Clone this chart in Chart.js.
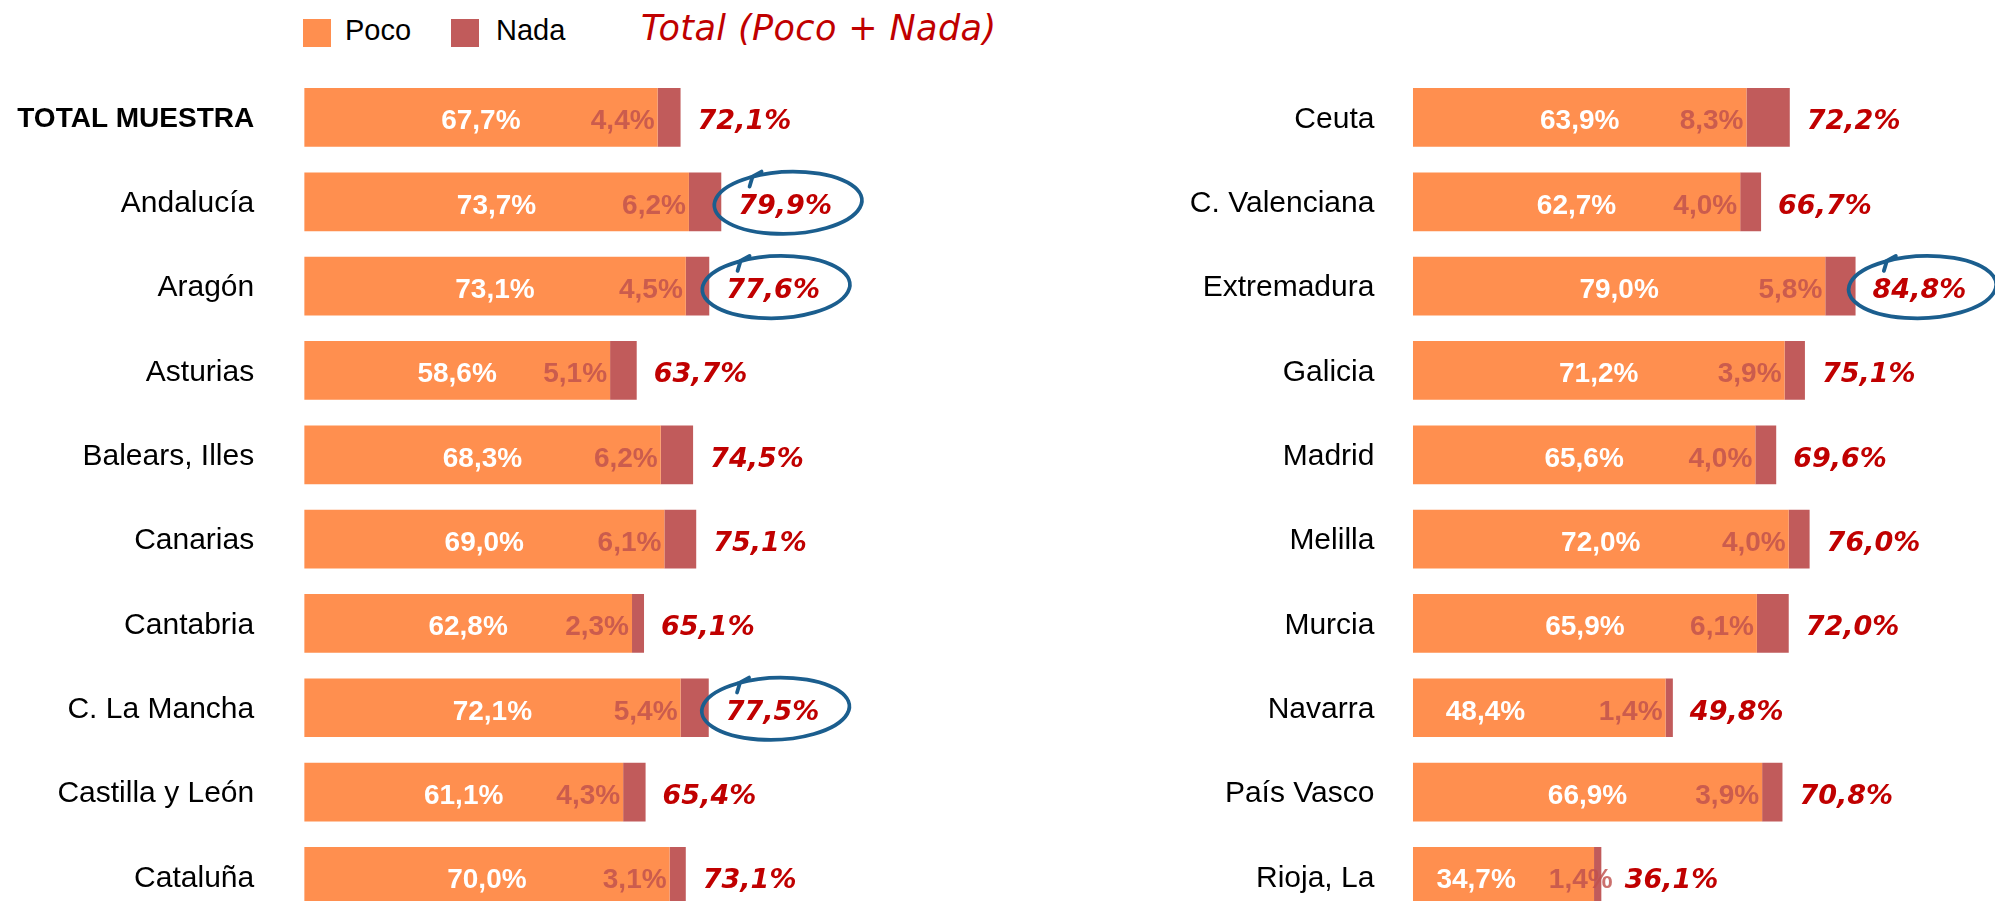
<!DOCTYPE html>
<html>
<head>
<meta charset="utf-8">
<script src="https://cdn.jsdelivr.net/npm/chart.js@4.4.0/dist/chart.umd.min.js"></script>
<style>
  html, body { margin: 0; padding: 0; background: #fff; width: 1995px; height: 901px; overflow: hidden; }
  .box { position: absolute; top: 0; }
  .sw { position: absolute; top: 19px; width: 28px; height: 28px; }
  .lg { position: absolute; top: 14px; height: 38px; line-height: 38px; font: 29px "Liberation Sans", Arial, sans-serif; color: #000; }
  #title { position: absolute; left: 641px; top: 8px; line-height: 44px; font: italic 35px "DejaVu Sans", sans-serif; color: #C00000; letter-spacing: 0.4px; }
</style>
</head>
<body>
<div class="sw" style="left:303px;background:#FF8F4F"></div>
<div class="lg" style="left:345px">Poco</div>
<div class="sw" style="left:451px;background:#C15B5B"></div>
<div class="lg" style="left:496px">Nada</div>
<div id="title">Total (Poco + Nada)</div>

<div class="box" style="left:0"><canvas id="left-chart" width="1000" height="920"></canvas></div>
<div class="box" style="left:1000px"><canvas id="right-chart" width="995" height="920"></canvas></div>

<script>
// Left block
const leftLabels = ['TOTAL MUESTRA', 'Andalucía', 'Aragón', 'Asturias', 'Balears, Illes', 'Canarias',
    'Cantabria', 'C. La Mancha', 'Castilla y León', 'Cataluña'];
const leftPoco = [67.7, 73.7, 73.1, 58.6, 68.3, 69.0, 62.8, 72.1, 61.1, 70.0];
const leftNada = [4.4, 6.2, 4.5, 5.1, 6.2, 6.1, 2.3, 5.4, 4.3, 3.1];
const leftTotal = [72.1, 79.9, 77.6, 63.7, 74.5, 75.1, 65.1, 77.5, 65.4, 73.1];
const leftCircled = ['Andalucía', 'Aragón', 'C. La Mancha'];

// Right block
const rightLabels = ['Ceuta', 'C. Valenciana', 'Extremadura', 'Galicia', 'Madrid', 'Melilla',
    'Murcia', 'Navarra', 'País Vasco', 'Rioja, La'];
const rightPoco = [63.9, 62.7, 79.0, 71.2, 65.6, 72.0, 65.9, 48.4, 66.9, 34.7];
const rightNada = [8.3, 4.0, 5.8, 3.9, 4.0, 4.0, 6.1, 1.4, 3.9, 1.4];
const rightTotal = [72.2, 66.7, 84.8, 75.1, 69.6, 76.0, 72.0, 49.8, 70.8, 36.1];
const rightCircled = ['Extremadura'];

const POCO_COLOR = '#FF8F4F';
const NADA_COLOR = '#C15B5B';

const fmt = v => v.toFixed(1).replace('.', ',') + '%';

// draws the value labels, the red totals and the blue hand circles
const valueLabels = {
    id: 'valueLabels',
    afterDatasetsDraw(chart, args, opts) {
        const ctx = chart.ctx;
        const poco = chart.getDatasetMeta(0).data;
        const nada = chart.getDatasetMeta(1).data;
        const pocoVals = chart.data.datasets[0].data;
        const nadaVals = chart.data.datasets[1].data;
        ctx.save();
        poco.forEach((bar, i) => {
            const y = bar.y;
            const width = bar.x - bar.base;
            ctx.textBaseline = 'alphabetic';
            ctx.font = 'bold 28px "Liberation Sans", Arial, sans-serif';

            const pocoTxt = fmt(pocoVals[i]);
            const nadaTxt = fmt(nadaVals[i]);
            const pw = ctx.measureText(pocoTxt).width;
            const nw = ctx.measureText(nadaTxt).width;

            // short bars: poco label pushed towards the start, nada label kept clear of it
            let pocoLeft = (bar.base + bar.x) / 2 - pw / 2;
            if (width < 280) pocoLeft = bar.base + width * 0.13;
            const nadaRight = Math.max(bar.x - 3, pocoLeft + pw + 33 + nw);

            ctx.fillStyle = '#ffffff';
            ctx.textAlign = 'left';
            ctx.fillText(pocoTxt, pocoLeft, y + 12);

            ctx.fillStyle = 'rgba(192, 80, 77, 0.82)';
            ctx.textAlign = 'right';
            ctx.fillText(nadaTxt, nadaRight, y + 12);

            const x0 = Math.max(nada[i].x + 17, nadaRight + 12);
            ctx.font = 'italic bold 27px "DejaVu Sans", sans-serif';
            ctx.fillStyle = '#C00000';
            ctx.textAlign = 'left';
            const txt = fmt(opts.totals[i]);
            ctx.fillText(txt, x0, y + 12);

            if (opts.circled.includes(chart.data.labels[i])) {
                const w = ctx.measureText(txt).width;
                const cx = x0 + w / 2 + 3;
                const cy = y + 1;
                const rx = w / 2 + 27;
                const ry = 31;
                ctx.strokeStyle = '#1B5E8E';
                ctx.lineWidth = 3.8;
                ctx.lineCap = 'round';
                ctx.beginPath();
                ctx.ellipse(cx, cy, rx, ry, -0.04, -2.1, -2.1 + Math.PI * 2.08);
                ctx.stroke();
                // pen start hook
                const a = -2.1;
                const hx = cx + rx * Math.cos(a) * 0.98;
                const hy = cy + ry * Math.sin(a) * 0.98;
                ctx.beginPath();
                ctx.moveTo(hx - 2, hy + 10);
                ctx.lineTo(hx + 1, hy);
                ctx.lineTo(hx + 10, hy - 5);
                ctx.stroke();
            }
        });
        ctx.restore();
    }
};

function makeChart(id, labels, poco, nada, totals, circled, axisWidth, labelPad, padRight) {
    return new Chart(document.getElementById(id), {
        type: 'bar',
        data: {
            labels: labels,
            datasets: [
                {
                    label: 'Poco',
                    data: poco,
                    backgroundColor: POCO_COLOR,
                    categoryPercentage: 1,
                    barPercentage: 0.696,
                },
                {
                    label: 'Nada',
                    data: nada,
                    backgroundColor: NADA_COLOR,
                    categoryPercentage: 1,
                    barPercentage: 0.696,
                },
            ],
        },
        options: {
            indexAxis: 'y',
            responsive: false,
            animation: false,
            layout: { padding: { top: 75.3, bottom: 1.4, left: 0, right: padRight } },
            scales: {
                x: {
                    stacked: true,
                    display: false,
                    min: 0,
                    max: 100,
                },
                y: {
                    stacked: true,
                    grid: { display: false, drawTicks: false },
                    border: { display: false },
                    afterFit: scale => {
                        scale.width = axisWidth;
                        // the label padding must not eat the plot height
                        scale.paddingTop = 0;
                        scale.paddingBottom = 0;
                    },
                    ticks: {
                        padding: labelPad,
                        color: '#000',
                        labelOffset: 2,
                        font: c => ({
                            family: '"Liberation Sans", Arial, sans-serif',
                            size: (labels[c.index] === 'TOTAL MUESTRA') ? 28 : 30,
                            weight: (labels[c.index] === 'TOTAL MUESTRA') ? 'bold' : 'normal',
                        }),
                    },
                },
            },
            plugins: {
                legend: { display: false },
                tooltip: { enabled: false },
                valueLabels: { totals: totals, circled: circled },
            },
        },
        plugins: [valueLabels],
    });
}

makeChart('left-chart', leftLabels, leftPoco, leftNada, leftTotal, leftCircled, 304.2, 50, 173.8);
makeChart('right-chart', rightLabels, rightPoco, rightNada, rightTotal, rightCircled, 412.9, 38.5, 60.1);
</script>
</body>
</html>
